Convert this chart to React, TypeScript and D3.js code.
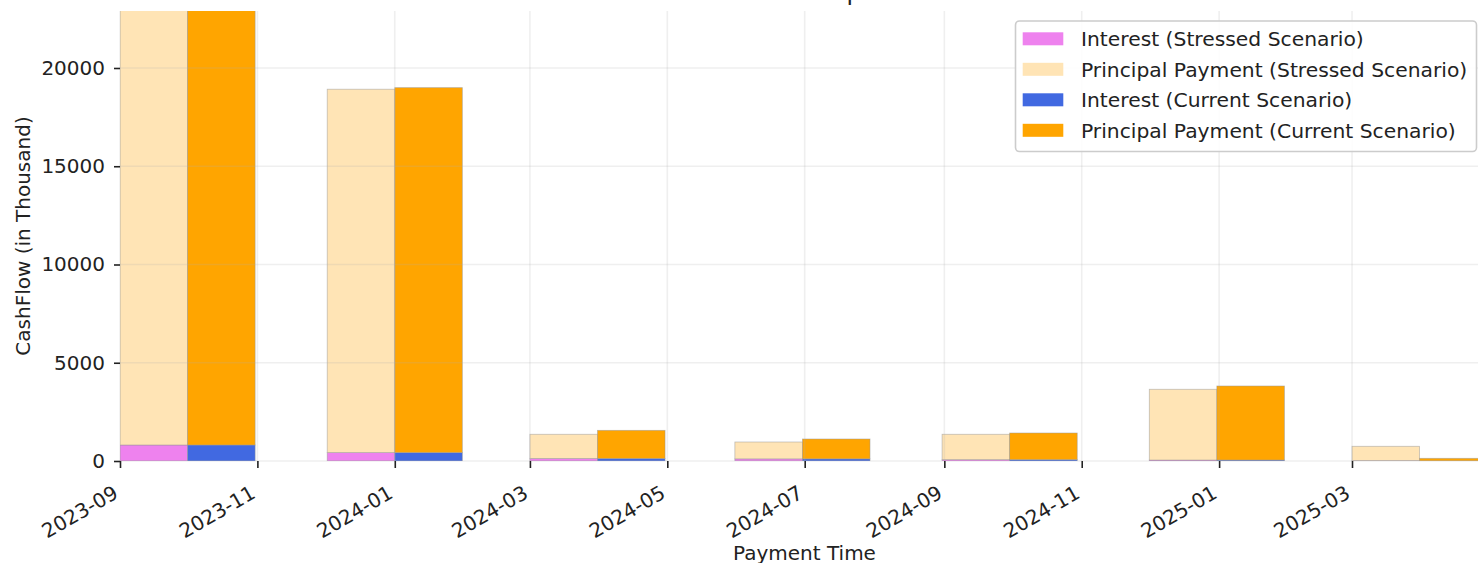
import { useEffect, useRef } from "react";
import * as d3 from "d3";

const paymentDates = ["2023-10-01", "2024-01-01", "2024-03-31", "2024-06-30", "2024-09-30", "2024-12-31", "2025-03-31"];
const interestStressed = [815, 430, 130, 110, 70, 50, 20];
const principalStressed = [24600, 18490, 1230, 857, 1290, 3600, 728];
const interestCurrent = [815, 430, 130, 110, 70, 50, 5];
const principalCurrent = [24800, 18570, 1430, 1010, 1355, 3767, 132];
const yTicks = [0, 5000, 10000, 15000, 20000];

const legendItems = [
	{ label: "Interest (Stressed Scenario)", color: "#ee82ee" },
	{ label: "Principal Payment (Stressed Scenario)", color: "#ffe4b5" },
	{ label: "Interest (Current Scenario)", color: "#4169e1" },
	{ label: "Principal Payment (Current Scenario)", color: "#ffa500" },
];

const W = 1478;
const H = 563;
const FONT = "DejaVu Sans, sans-serif";

export default function App() {
	const svgRef = useRef<SVGSVGElement>(null);

	useEffect(() => {
		if (!svgRef.current) return;
		const svg = d3.select(svgRef.current);
		svg.selectAll("*").remove();

		const plot = { left: 120, top: 11, bottom: 461, right: W };
		const dates = paymentDates.map((d) => new Date(d + "T00:00:00Z"));

		const x = d3
			.scaleUtc()
			.domain([new Date(Date.UTC(2023, 8, 1)), new Date(Date.UTC(2025, 2, 1))])
			.range([plot.left, 1352]);

		const y = d3.scaleLinear().domain([0, 22900]).range([plot.bottom, plot.top]);

		const clipId = "plot-clip";
		svg
			.append("defs")
			.append("clipPath")
			.attr("id", clipId)
			.append("rect")
			.attr("x", plot.left)
			.attr("y", plot.top)
			.attr("width", plot.right - plot.left)
			.attr("height", plot.bottom - plot.top);

		const bars = svg.append("g").attr("clip-path", `url(#${clipId})`);

		const drawStack = (
			interest: number[],
			principal: number[],
			x0: (d: Date) => Date,
			x1: (d: Date) => Date,
			cInt: string,
			cPrin: string
		) => {
			dates.forEach((d, i) => {
				const xa = x(x0(d));
				const xb = x(x1(d));
				bars
					.append("rect")
					.attr("x", xa)
					.attr("width", xb - xa)
					.attr("y", y(interest[i]))
					.attr("height", y(0) - y(interest[i]))
					.attr("fill", cInt)
					.attr("stroke", "#999")
					.attr("stroke-opacity", 0.6)
					.attr("stroke-width", 0.8);
				const top = interest[i] + principal[i];
				bars
					.append("rect")
					.attr("x", xa)
					.attr("width", xb - xa)
					.attr("y", y(top))
					.attr("height", y(interest[i]) - y(top))
					.attr("fill", cPrin)
					.attr("stroke", "#999")
					.attr("stroke-opacity", 0.6)
					.attr("stroke-width", 0.8);
			});
		};

		drawStack(interestStressed, principalStressed, (d) => d3.utcDay.offset(d, -30), (d) => d, "#ee82ee", "#ffe4b5");
		drawStack(interestCurrent, principalCurrent, (d) => d, (d) => d3.utcDay.offset(d, 30), "#4169e1", "#ffa500");

		// grid (drawn over the bars, faint)
		const monthTicks = d3.utcMonth
			.every(2)!
			.range(new Date(Date.UTC(2023, 8, 1)), new Date(Date.UTC(2025, 3, 1)));

		const grid = svg
			.append("g")
			.attr("stroke", "#b0b0b0")
			.attr("stroke-opacity", 0.2)
			.attr("stroke-width", 1.6);
		monthTicks.forEach((t) => {
			grid
				.append("line")
				.attr("x1", x(t))
				.attr("x2", x(t))
				.attr("y1", plot.top)
				.attr("y2", plot.bottom);
		});
		yTicks.forEach((t) => {
			grid
				.append("line")
				.attr("x1", plot.left)
				.attr("x2", plot.right)
				.attr("y1", y(t))
				.attr("y2", y(t));
		});

		// x axis
		const xAxis = d3
			.axisBottom(x)
			.tickValues(monthTicks)
			.tickSize(7)
			.tickSizeOuter(0)
			.tickFormat((d) => d3.utcFormat("%Y-%m")(d as Date));

		svg
			.append("g")
			.attr("transform", `translate(0,${plot.bottom})`)
			.call(xAxis)
			.call((g) => g.select(".domain").remove())
			.call((g) => g.selectAll(".tick line").attr("stroke", "#222").attr("stroke-width", 1.6))
			.call((g) =>
				g
					.selectAll(".tick text")
					.attr("fill", "#222")
					.attr("font-size", "20px")
					.attr("font-family", FONT)
					.attr("text-anchor", "end")
					.attr("x", null)
					.attr("y", null)
					.attr("dy", null)
					.attr("transform", "translate(-1,36) rotate(-30)")
			);

		// y axis
		const yAxis = d3
			.axisLeft(y)
			.tickValues(yTicks)
			.tickSize(6)
			.tickPadding(9)
			.tickSizeOuter(0)
			.tickFormat((d) => String(d));

		svg
			.append("g")
			.attr("transform", `translate(${plot.left},0)`)
			.call(yAxis)
			.call((g) => g.select(".domain").remove())
			.call((g) => g.selectAll(".tick line").attr("stroke", "#222").attr("stroke-width", 1.6))
			.call((g) =>
				g
					.selectAll(".tick text")
					.attr("fill", "#222")
					.attr("font-size", "20px")
					.attr("font-family", FONT)
			);

		// axis labels + title (title sits above the visible area)
		svg
			.append("text")
			.attr("x", 670)
			.attr("y", 0)
			.attr("font-size", "24px")
			.attr("font-family", FONT)
			.attr("fill", "#222")
			.text("CashFlow Comparison");

		svg
			.append("text")
			.attr("x", 804.5)
			.attr("y", 560)
			.attr("text-anchor", "middle")
			.attr("font-size", "20px")
			.attr("font-family", FONT)
			.attr("fill", "#222")
			.text("Payment Time");

		svg
			.append("text")
			.attr("transform", "translate(30,236) rotate(-90)")
			.attr("text-anchor", "middle")
			.attr("font-size", "20px")
			.attr("font-family", FONT)
			.attr("fill", "#222")
			.text("CashFlow (in Thousand)");

		// legend
		const legend = svg.append("g");
		legend
			.append("rect")
			.attr("x", 1015.5)
			.attr("y", 21)
			.attr("width", 461)
			.attr("height", 130.5)
			.attr("rx", 4)
			.attr("fill", "white")
			.attr("fill-opacity", 0.85)
			.attr("stroke", "#cccccc")
			.attr("stroke-width", 1.6);

		legendItems.forEach((item, i) => {
			const cy = 39.3 + i * 30.5;
			legend
				.append("rect")
				.attr("x", 1022.7)
				.attr("y", cy - 7)
				.attr("width", 40.6)
				.attr("height", 13)
				.attr("fill", item.color);
			legend
				.append("text")
				.attr("x", 1081)
				.attr("y", cy + 6.8)
				.attr("font-size", "20.3px")
				.attr("font-family", FONT)
				.attr("fill", "#222")
				.text(item.label);
		});
	}, []);

	return (
		<svg
			ref={svgRef}
			width={W}
			height={H}
			style={{ position: "absolute", left: 0, top: 0, background: "white" }}
		/>
	);
}
